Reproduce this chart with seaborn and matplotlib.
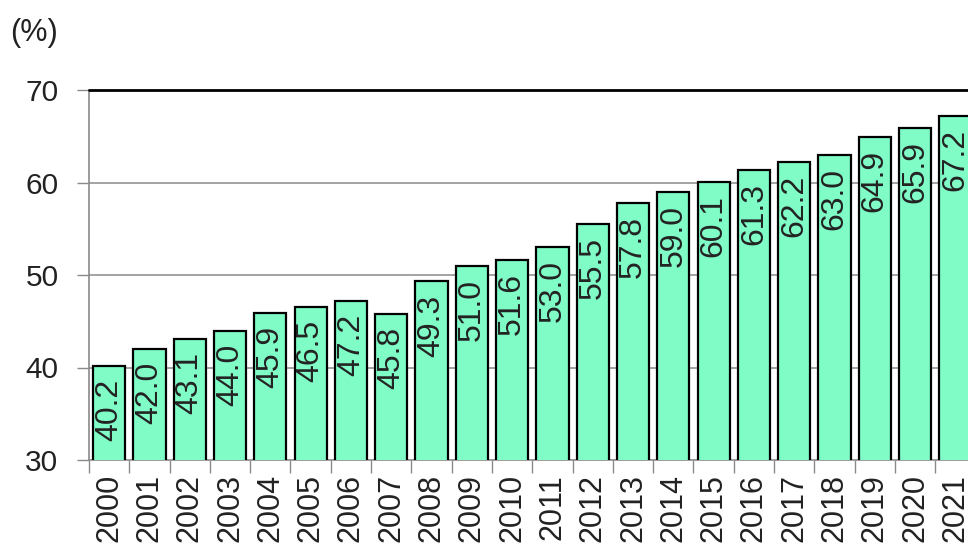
import matplotlib
matplotlib.use("Agg")
import matplotlib.pyplot as plt
import seaborn as sns
import pandas as pd

years = [str(y) for y in range(2000, 2022)]
values = [40.2, 42.0, 43.1, 44.0, 45.9, 46.5, 47.2, 45.8, 49.3, 51.0, 51.6,
          53.0, 55.5, 57.8, 59.0, 60.1, 61.3, 62.2, 63.0, 64.9, 65.9, 67.2]
y_ticks = [30, 40, 50, 60, 70]
unit_label = "(%)"

sns.set_theme(style="white")
plt.rcParams["font.family"] = ["Liberation Sans", "DejaVu Sans"]

df = pd.DataFrame({"year": years, "value": values})

fig = plt.figure(figsize=(9.68, 5.49), dpi=100)
W, H = 968, 549
left_px, right_px = 89, 89 + 22 * 40.3
top_px, bottom_px = 90, 460
ax = fig.add_axes([left_px / W, (H - bottom_px) / H,
                   (right_px - left_px) / W, (bottom_px - top_px) / H])

sns.barplot(data=df, x="year", y="value", ax=ax, color="#80FCC6",
            saturation=1, width=0.8, edgecolor="black", linewidth=1.6,
            zorder=3)

ax.set_ylim(30, 70)
ax.set_xlim(-0.5, len(years) - 0.5)
ax.set_yticks(y_ticks)
ax.set_yticklabels([str(t) for t in y_ticks], fontsize=21.5, color="#222222")

# grid lines behind the bars, dark frame line at the top
for t in y_ticks[1:-1]:
    ax.axhline(t, color="#8a8a8a", linewidth=1.1, zorder=1)
ax.axhline(70, color="black", linewidth=2.0, zorder=4, clip_on=False)

for s in ["top", "right"]:
    ax.spines[s].set_visible(False)
for s in ["left", "bottom"]:
    ax.spines[s].set_color("#8a8a8a")
    ax.spines[s].set_linewidth(1.2)

# category ticks on the boundaries, labels centered under bars
ax.set_xticks([i - 0.5 for i in range(len(years) + 1)], minor=False)
ax.set_xticklabels([])
ax.set_xticks(range(len(years)), minor=True)
ax.set_xticklabels(years, minor=True, rotation=90, fontsize=22,
                   color="#222222", va="top")
ax.tick_params(axis="x", which="major", length=9, width=1.0,
               color="#8a8a8a", bottom=True, direction="out")
ax.tick_params(axis="x", which="minor", length=0, pad=10)
ax.tick_params(axis="y", length=9, width=1.0, color="#8a8a8a",
               left=True, direction="out", pad=13)
ax.set_xlabel("")
ax.set_ylabel("")

for i, v in enumerate(values):
    ax.text(i, v - 1.4, f"{v:.1f}", rotation=90, ha="center", va="top",
            fontsize=23, color="#222222", zorder=5)

fig.text(10 / W, 1 - 33 / H, unit_label, fontsize=22, color="#222222",
         ha="left", va="center")

fig.savefig("out.png", dpi=100)
